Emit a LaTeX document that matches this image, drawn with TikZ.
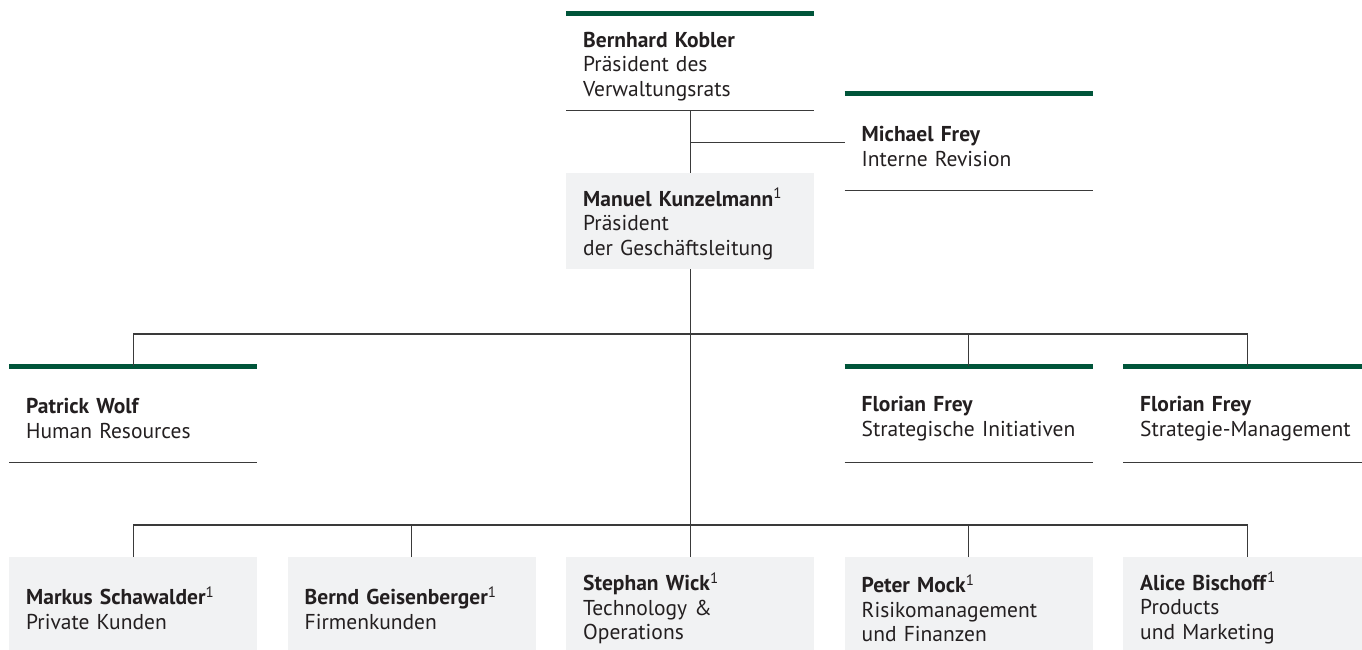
\documentclass[tikz,border=0pt]{standalone}
\usepackage{fontspec}
\setmainfont{PT Sans}
\definecolor{ubsgreen}{HTML}{00553A}
\definecolor{boxgray}{HTML}{F1F2F3}
\definecolor{ink}{HTML}{231F20}
\definecolor{rulegray}{HTML}{3A3A3A}
\tikzset{
  unit/.style={anchor=north west, minimum width=248pt, minimum height=96pt,
    text width=214pt, inner xsep=17pt, inner ysep=0pt, align=left,
    text=ink, font=\fontsize{21.5}{24.5}\selectfont,
    execute at begin node={\rule{0pt}{24pt}}},
  grayunit/.style={unit, fill=boxgray},
  bar/.style={draw=ubsgreen, line width=5pt},
  rule/.style={draw=rulegray, line width=1.1pt},
  link/.style={draw=rulegray, line width=1.1pt}
}
\begin{document}
\begin{tikzpicture}[x=1pt,y=-1pt]
\useasboundingbox (0,0) rectangle (1362,650);
\clip (0,0) rectangle (1362,650);

% Verwaltungsrat
\node[unit] (kobler) at (566,14) {\textbf{Bernhard Kobler}\\Präsident des\\Verwaltungsrats};
\node[unit] (revision) at (844.5,94) {\textbf{Michael Frey}\\Interne Revision};
\node[grayunit] (kunzelmann) at (566,173) {\textbf{Manuel Kunzelmann}\textsuperscript{1}\\Präsident\\der Geschäftsleitung};

% Stab
\node[unit] (wolf) at (9,366) {\textbf{Patrick Wolf}\\Human Resources};
\node[unit] (initiativen) at (844.5,366) {\textbf{Florian Frey}\\Strategische Initiativen};
\node[unit] (strategie) at (1123,366) {\textbf{Florian Frey}\\Strategie-Management};

% Geschaeftsleitung
\node[grayunit] (schawalder) at (9,557) {\textbf{Markus Schawalder}\textsuperscript{1}\\Private Kunden};
\node[grayunit] (geisenberger) at (287.5,557) {\textbf{Bernd Geisenberger}\textsuperscript{1}\\Firmenkunden};
\node[grayunit] (wick) at (566,557) {\textbf{Stephan Wick}\textsuperscript{1}\\Technology \&\\Operations};
\node[grayunit] (mock) at (844.5,557) {\textbf{Peter Mock}\textsuperscript{1}\\Risikomanagement\\und Finanzen};
\node[grayunit] (bischoff) at (1123,557) {\textbf{Alice Bischoff}\textsuperscript{1}\\Products\\und Marketing};

\foreach \n in {kobler,revision,wolf,initiativen,strategie} {
  \draw[bar] (\n.north west) -- (\n.north east);
  \draw[rule] (\n.south west) -- (\n.south east);
}

\coordinate (stabbus) at (690,334);
\coordinate (linebus) at (690,525);

\draw[link] (kobler.south) -- (kunzelmann.north);
\draw[link] (kobler.south |- revision.west) -- (revision.west);
\draw[link] (kunzelmann.south) -- (wick.north);

\draw[link] (wolf.north) |- (strategie.north |- stabbus) -- (strategie.north);
\draw[link] (initiativen.north) -- (initiativen.north |- stabbus);

\draw[link] (schawalder.north) |- (bischoff.north |- linebus) -- (bischoff.north);
\draw[link] (geisenberger.north) -- (geisenberger.north |- linebus);
\draw[link] (mock.north) -- (mock.north |- linebus);
\end{tikzpicture}
\end{document}
